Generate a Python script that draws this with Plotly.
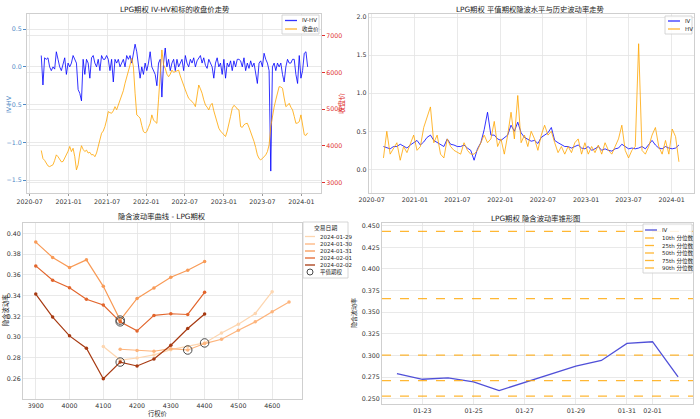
import pandas as pd
import plotly.graph_objects as go

# ---------------- data: top-left (IV-HV and close) ----------------
ts_start, ts_end = "2020-08-25", "2024-01-30"
ivhv_vals = [0.15, -0.24, 0.12, 0.10, 0.12, 0.0, -0.05, 0.0, -0.03, 0.2, 0.1, 0.0, -0.05, 0.05, 0.12, -0.1,
             0.05, 0.0, 0.05, 0.15, 0.1, 0.05, -0.3, -0.35, -0.45, 0.1, -0.1, 0.1, 0.05, -0.15, 0.12, 0.15,
             0.05, 0.0, 0.1, -0.05, 0.15, 0.1, 0.1, 0.15, 0.1, -0.05, 0.1, -0.2, 0.1, 0.05, 0.1, 0.0,
             0.05, 0.1, 0.0, 0.15, 0.1, 0.15, 0.05, 0.2, 0.3, 0.2, 0.05, -0.15, 0.0, -0.1, 0.05, -0.05,
             0.05, 0.2, 0.0, -0.05, -0.1, -0.25, 0.05, 0.1, -0.4, 0.05, 0.25, 0.0, 0.1, -0.05, 0.05, 0.1,
             -0.05, 0.1, 0.0, 0.05, 0.1, -0.05, 0.15, 0.05, 0.0, 0.1, 0.05, 0.12, 0.0, 0.08, 0.12, 0.15,
             0.05, 0.12, 0.02, -0.02, 0.1, 0.05, 0.0, -0.15, 0.05, 0.12, 0.0, 0.05, -0.1, 0.1, -0.15, 0.05,
             0.0, 0.08, -0.05, 0.08, 0.0, 0.1, 0.1, 0.08, 0.0, 0.12, -0.05, 0.05, -0.02, 0.08, 0.0, 0.05,
             -0.1, -0.22, 0.05, 0.08, 0.0, 0.18, 0.1, 0.05, -0.05, -1.38, 0.0, 0.05, -0.05, 0.05, 0.0, 0.05,
             -0.1, -0.2, 0.0, 0.1, 0.05, 0.05, 0.1, 0.1, -0.1, -0.22, 0.15, -0.15, -0.05, 0.18, 0.2, 0.0]
close_vals = [3870, 3650, 3600, 3520, 3450, 3430, 3450, 3480, 3600, 3750, 3700, 3615, 3560, 3570, 3650, 3750,
              3850, 3980, 3840, 3930, 3700, 3340, 3480, 3800, 4000, 3900, 3840, 3880, 3800, 3820, 3750, 3760,
              3700, 3800, 3980, 4150, 4340, 4400, 4520, 4700, 4930, 4900, 4885, 4950, 5065, 4980, 5110, 5200,
              5340, 5500, 5700, 5850, 6020, 6200, 6380, 6155, 5430, 4840, 4800, 4750, 4550, 4385, 4350, 4385,
              4500, 4610, 4840, 4700, 4650, 4610, 5250, 5970, 6610, 6200, 6110, 5950, 5880, 5950, 6060, 6000,
              6020, 6050, 6060, 5900, 5790, 5650, 5520, 5400, 5290, 5250, 5200, 5150, 5065, 5430, 5655, 5550,
              5430, 5250, 5110, 5050, 4975, 5100, 5155, 4950, 4795, 4650, 4475, 4400, 4340, 4300, 4250, 4400,
              4570, 4800, 5020, 5100, 5065, 5000, 4975, 4520, 4500, 4570, 4600, 4610, 4500, 4385, 4250, 4115,
              3950, 3750, 3650, 3615, 3650, 3700, 3750, 3840, 4020, 4520, 4840, 5050, 5250, 5450, 5610, 5600,
              5565, 5300, 5065, 5100, 5155, 5050, 4975, 4800, 4610, 4620, 4655, 4840, 4520, 4300, 4280, 4350]

# ---------------- data: top-right (IV and HV) ----------------
iv_vals = [0.30, 0.28, 0.27, 0.30, 0.30, 0.33, 0.30, 0.28, 0.32, 0.35, 0.38, 0.32, 0.36, 0.42, 0.45, 0.38,
           0.35, 0.32, 0.30, 0.40, 0.33, 0.32, 0.30, 0.30, 0.32, 0.28, 0.25, 0.12, 0.27, 0.35, 0.52, 0.75,
           0.45, 0.45, 0.40, 0.38, 0.42, 0.45, 0.58, 0.50, 0.62, 0.48, 0.42, 0.40, 0.37, 0.38, 0.34, 0.42,
           0.45, 0.48, 0.55, 0.38, 0.35, 0.32, 0.30, 0.30, 0.28, 0.30, 0.32, 0.28, 0.27, 0.30, 0.25, 0.27,
           0.30, 0.25, 0.27, 0.25, 0.24, 0.27, 0.28, 0.33, 0.30, 0.27, 0.28, 0.27, 0.28, 0.30, 0.27, 0.33,
           0.38, 0.32, 0.28, 0.27, 0.30, 0.28, 0.27, 0.28, 0.32]
hv_vals = [0.15, 0.50, 0.20, 0.28, 0.35, 0.12, 0.30, 0.22, 0.35, 0.45, 0.25, 0.30, 0.55, 0.70, 0.82, 0.35,
           0.45, 0.20, 0.15, 0.40, 0.30, 0.25, 0.22, 0.20, 0.35, 0.25, 0.20, 0.20, 0.25, 0.35, 0.45, 0.35,
           0.40, 0.63, 0.30, 0.40, 0.20, 0.45, 0.75, 0.40, 0.97, 0.35, 0.45, 0.30, 0.50, 0.40, 0.25, 0.45,
           0.58, 0.45, 0.50, 0.35, 0.22, 0.30, 0.20, 0.30, 0.22, 0.35, 0.40, 0.20, 0.35, 0.20, 0.30, 0.22,
           0.32, 0.20, 0.35, 0.25, 0.20, 0.30, 0.40, 0.58, 0.25, 0.15, 0.25, 0.30, 1.65, 0.25, 0.20, 0.30,
           0.45, 0.55, 0.30, 0.20, 0.38, 0.20, 0.53, 0.43, 0.10]
vol_start, vol_end = "2020-08-20", "2024-02-01"

# ---------------- data: bottom-left (IV smile) ----------------
smile_dates = ["2024-01-29", "2024-01-30", "2024-01-31", "2024-02-01", "2024-02-02"]
strikes_0129 = [4100, 4150, 4200, 4250, 4300, 4350, 4400, 4450, 4500, 4550, 4600]
iv_0129 = [0.291, 0.278, 0.280, 0.283, 0.288, 0.291, 0.2945, 0.304, 0.3126, 0.3229, 0.3439]
strikes_0130 = [4150, 4200, 4250, 4300, 4350, 4400, 4450, 4500, 4550, 4600, 4650]
iv_0130 = [0.2884, 0.2871, 0.2865, 0.289, 0.2877, 0.2939, 0.298, 0.3068, 0.3148, 0.3245, 0.3339]
strikes_0131 = [3900, 3950, 4000, 4050, 4100, 4150, 4200, 4250, 4300, 4350, 4400]
iv_0131 = [0.3916, 0.3768, 0.3671, 0.3745, 0.349, 0.3165, 0.3374, 0.3474, 0.3577, 0.3645, 0.3729]
strikes_0201 = [3900, 3950, 4000, 4050, 4100, 4150, 4200, 4250, 4300, 4350, 4400]
iv_0201 = [0.3687, 0.3548, 0.3477, 0.3365, 0.331, 0.3148, 0.3061, 0.321, 0.3226, 0.3219, 0.3432]
strikes_0202 = [3900, 3950, 4000, 4050, 4100, 4150, 4200, 4250, 4300, 4350, 4400]
iv_0202 = [0.3416, 0.3194, 0.3013, 0.2894, 0.26, 0.2761, 0.2723, 0.279, 0.2923, 0.3084, 0.3223]
atm_strikes = [4400, 4350, 4150, 4150, 4150]

# ---------------- data: bottom-right (IV cone) ----------------
cone_dates = ["2024-01-22", "2024-01-23", "2024-01-24", "2024-01-25", "2024-01-26",
              "2024-01-29", "2024-01-30", "2024-01-31", "2024-02-01", "2024-02-02"]
cone_iv = [0.279, 0.2724, 0.274, 0.2693, 0.2593, 0.2875, 0.2941, 0.3138, 0.3158, 0.2752]
quantile_names = ["10th 分位数", "25th 分位数", "50th 分位数", "75th 分位数", "90th 分位数"]
quantile_vals = [0.253, 0.2709, 0.3003, 0.3657, 0.4434]

# ---------------- figure ----------------
W, H = 700, 419
FONT = "DejaVu Sans, Noto Sans CJK SC, sans-serif"
GRID = "#e3e3e3"
LINE = "#cfcfcf"
BLUE = "rgba(0,0,255,0.8)"
ORANGE = "rgba(255,165,0,0.8)"
fig = go.Figure()

ts_dates = pd.date_range(ts_start, ts_end, periods=len(ivhv_vals))
vol_dates = pd.date_range(vol_start, vol_end, periods=len(iv_vals))

fig.add_trace(go.Scatter(x=ts_dates, y=ivhv_vals, mode="lines", name="IV-HV",
                         line=dict(color=BLUE, width=1), xaxis="x", yaxis="y"))
fig.add_trace(go.Scatter(x=ts_dates, y=close_vals, mode="lines", name="收盘价",
                         line=dict(color=ORANGE, width=1), xaxis="x", yaxis="y5"))

fig.add_trace(go.Scatter(x=vol_dates, y=iv_vals, mode="lines", name="IV",
                         line=dict(color=BLUE, width=1), xaxis="x2", yaxis="y2"))
fig.add_trace(go.Scatter(x=vol_dates, y=hv_vals, mode="lines", name="HV",
                         line=dict(color=ORANGE, width=1), xaxis="x2", yaxis="y2"))

smile_colors = ["#fdd6b0", "#fdb47c", "#f89a56", "#e2652c", "#a73a12"]
smile_strikes = [strikes_0129, strikes_0130, strikes_0131, strikes_0201, strikes_0202]
smile_ivs = [iv_0129, iv_0130, iv_0131, iv_0201, iv_0202]
atm_x, atm_y = [], []
for d, s, v, c, a in zip(smile_dates, smile_strikes, smile_ivs, smile_colors, atm_strikes):
    fig.add_trace(go.Scatter(x=s, y=v, mode="lines+markers", name=d,
                             line=dict(color=c, width=1.2), marker=dict(size=3.5, color=c),
                             xaxis="x3", yaxis="y3"))
    atm_x.append(a)
    atm_y.append(v[s.index(a)])
fig.add_trace(go.Scatter(x=atm_x, y=atm_y, mode="markers", name="平值期权",
                         marker=dict(size=8.5, color="rgba(0,0,0,0)", line=dict(color="#4a4a4a", width=1)),
                         xaxis="x3", yaxis="y3"))

CONE_BLUE = "#5050d8"
fig.add_trace(go.Scatter(x=cone_dates, y=cone_iv, mode="lines", name="IV",
                         line=dict(color=CONE_BLUE, width=1.3), xaxis="x4", yaxis="y4"))
for n, q in zip(quantile_names, quantile_vals):
    fig.add_shape(type="line", xref="x4 domain", x0=0, x1=1, yref="y4", y0=q, y1=q,
                  line=dict(color=ORANGE, width=1.2, dash="dash"))

def ax(**kw):
    d = dict(showgrid=True, gridcolor=GRID, gridwidth=0.8, showline=True, linecolor=LINE, linewidth=1,
             mirror=True, zeroline=False, ticks="", ticklen=0, automargin=False,
             tickfont=dict(size=6.3, color="#333333"))
    d.update(kw)
    return d

fig.update_layout(
    width=W, height=H, margin=dict(l=0, r=0, t=0, b=0), showlegend=False, hovermode=False,
    paper_bgcolor="white", plot_bgcolor="white", font=dict(family=FONT, size=7, color="#222222"),
    xaxis=ax(domain=[0.0386, 0.4586], anchor="y", type="date", range=["2020-06-19", "2024-04-02"],
             tick0="2020-07-01", dtick="M6", tickformat="%Y-%m", ticks="outside", ticklen=2, tickcolor="#999"),
    yaxis=ax(domain=[0.5394, 0.9666], anchor="x", range=[-1.67, 0.70], tickvals=[-1.5, -1.0, -0.5, 0.0, 0.5],
             tickformat=".1f", ticks="outside", ticklen=3, tickcolor="#4f8ac6",
             tickfont=dict(size=6.3, color="#4f8ac6")),
    yaxis5=ax(overlaying="y", anchor="x", side="right", range=[2711, 7590], tickvals=[3000, 4000, 5000, 6000, 7000],
              ticks="outside", ticklen=3, tickcolor="#e03030", tickfont=dict(size=6.3, color="#e03030"),
              showline=False),
    xaxis2=ax(domain=[0.527, 0.991], anchor="y2", type="date", range=["2020-06-19", "2024-04-04"],
              tick0="2020-07-01", dtick="M6", tickformat="%Y-%m"),
    yaxis2=ax(domain=[0.5394, 0.9666], anchor="x2", range=[-0.31, 2.04], tickvals=[0.0, 0.5, 1.0, 1.5, 2.0],
              tickformat=".1f"),
    xaxis3=ax(domain=[0.033, 0.431], anchor="y3", range=[3862.5, 4687.5],
              tickvals=[3900, 4000, 4100, 4200, 4300, 4400, 4500, 4600]),
    yaxis3=ax(domain=[0.0477, 0.4678], anchor="x3", range=[0.2405, 0.41],
              tickvals=[0.26, 0.28, 0.30, 0.32, 0.34, 0.36, 0.38, 0.40], tickformat=".2f"),
    xaxis4=ax(domain=[0.5457, 0.99], anchor="y4", type="date", range=["2024-01-21 10:00", "2024-02-02 14:00"],
              tickvals=["2024-01-23", "2024-01-25", "2024-01-27", "2024-01-29", "2024-01-31", "2024-02-01"],
              tickformat="%m-%d"),
    yaxis4=ax(domain=[0.0358, 0.4678], anchor="x4", range=[0.2438, 0.4531],
              tickvals=[0.25, 0.275, 0.30, 0.325, 0.35, 0.375, 0.40, 0.425, 0.45], tickformat=".3f"),
)

def px(x):
    return x / W

def py(y):
    return 1 - y / H

def text(t, x, y, size=6.5, color="#222", angle=0, xanchor="center"):
    fig.add_annotation(text=t, x=px(x), y=py(y), xref="paper", yref="paper", showarrow=False,
                       textangle=angle, font=dict(size=size, color=color, family=FONT),
                       xanchor=xanchor, yanchor="middle")

# titles and axis labels
text("LPG期权 IV-HV和标的收盘价走势", 175, 9, 7.3)
text("LPG期权 平值期权隐波水平与历史波动率走势", 530, 9, 7.3)
text("隐含波动率曲线 - LPG期权", 162, 216, 7.3)
text("LPG期权 隐含波动率锥形图", 535, 218, 7.3)
text("IV-HV", 8, 104, 6.3, "#4f8ac6", -90)
text("收盘价", 341, 104, 7, "#e03030", -90)
text("行权价", 158, 413, 6.3)
text("隐含波动率", 5, 311, 6.3, angle=-90)
text("隐含波动率", 354, 313, 6.0, angle=-90)

# compact legends (matplotlib style)
def legend(box, rows, sample, text_x, entries, title=None):
    x0, y0, x1, y1 = box
    fig.add_shape(type="rect", xref="paper", yref="paper", x0=px(x0), x1=px(x1), y0=py(y1), y1=py(y0),
                  fillcolor="rgba(255,255,255,0.85)", line=dict(color="#cccccc", width=0.8), layer="above")
    if title:
        text(title[0], (x0 + x1) / 2, title[1], 5.8)
    for (label, color, dash, kind), ry in zip(entries, rows):
        if kind == "line":
            fig.add_shape(type="line", xref="paper", yref="paper", x0=px(sample[0]), x1=px(sample[1]),
                          y0=py(ry), y1=py(ry), line=dict(color=color, width=1.3, dash=dash), layer="above")
        else:
            cx = (sample[0] + sample[1]) / 2
            fig.add_shape(type="circle", xref="paper", yref="paper", x0=px(cx - 3), x1=px(cx + 3),
                          y0=py(ry + 3), y1=py(ry - 3), line=dict(color=color, width=1), layer="above")
        text(label, text_x, ry, 5.5, xanchor="left")

legend((282, 15, 319, 34), [20.5, 29], (285, 297), 300,
       [("IV-HV", BLUE, "solid", "line"), ("收盘价", ORANGE, "solid", "line")])
legend((665, 16, 692, 34), [21, 29], (668, 680), 683,
       [("IV", BLUE, "solid", "line"), ("HV", ORANGE, "solid", "line")])
legend((303, 222, 348, 278), [236.5, 244, 251, 258, 265, 272], (305, 315), 318,
       [(d, c, "solid", "line") for d, c in zip(smile_dates, smile_colors)] +
       [("平值期权", "#4a4a4a", "solid", "circle")], title=("交易日期", 228))
legend((643, 224, 692, 273), [230, 238, 245.5, 253, 260.5, 268], (645, 657), 660,
       [("IV", CONE_BLUE, "solid", "line")] + [(n, ORANGE, "dash", "line") for n in quantile_names])

fig.write_html("out.html", config={"displayModeBar": False, "staticPlot": True},
               post_script="document.body.style.margin='0';document.body.style.overflow='hidden';")
